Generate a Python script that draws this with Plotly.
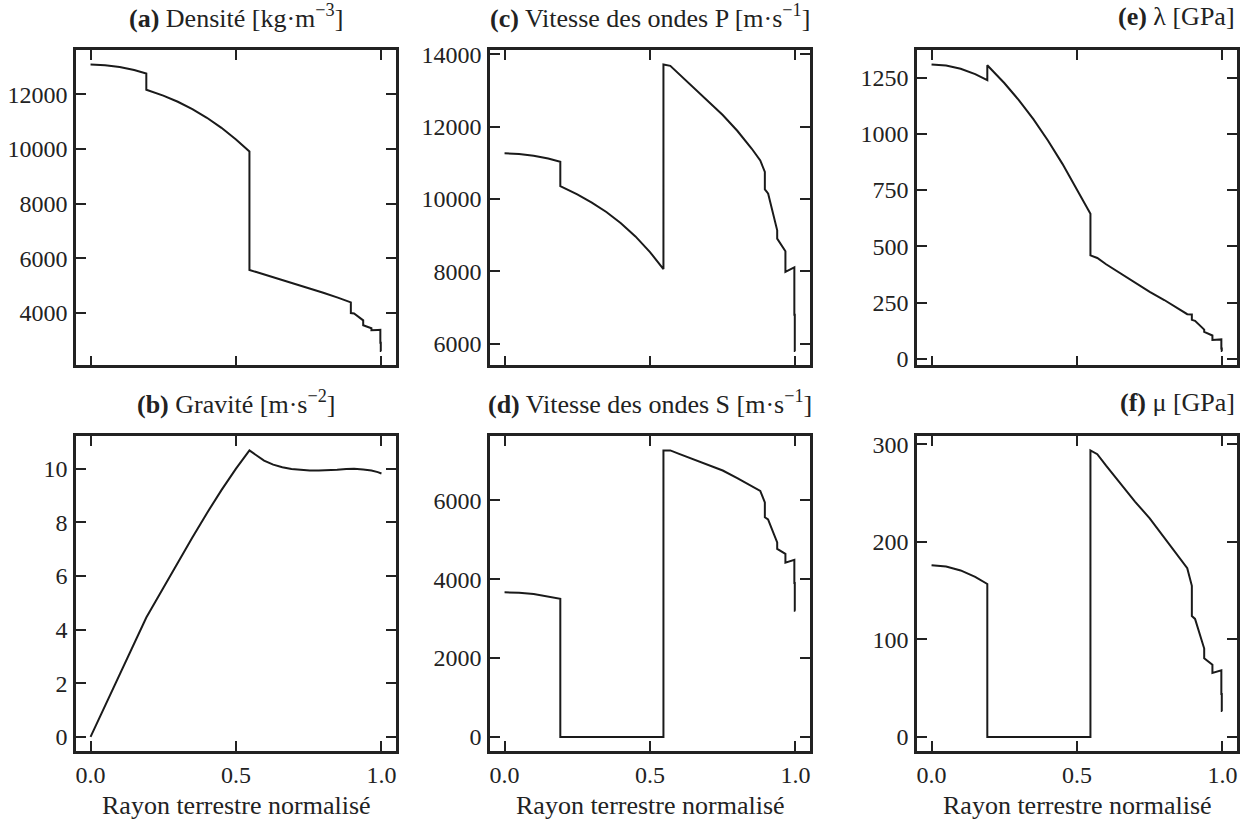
import plotly.graph_objects as go

# ---------------- data ----------------
radius = [0.0, 0.05, 0.10, 0.15, 0.1917,
          0.1917, 0.25, 0.30, 0.35, 0.40, 0.45, 0.50, 0.5462,
          0.5462, 0.5698, 0.60, 0.65, 0.70, 0.75, 0.80, 0.85, 0.879, 0.8948,
          0.8948, 0.9058, 0.9058, 0.9372, 0.9372, 0.9655, 0.9655, 0.9874, 0.9962,
          0.9962, 0.9977, 0.9977, 0.9995]

density = [13088.5, 13066.4, 13000.1, 12889.6, 12763.7,
           12166.4, 11951.5, 11725.3, 11455.9, 11139.4, 10771.4, 10347.9, 9903.7,
           5566.5, 5491.4, 5395.6, 5236.7, 5075.4, 4909.4, 4736.4, 4554.1, 4443.1, 4380.9,
           3992.2, 3975.9, 3976.0, 3723.9, 3543.3, 3435.7, 3359.5, 3374.7, 3380.8,
           2900.0, 2900.0, 2600.0, 2600.0]

vp = [11262.2, 11246.3, 11198.6, 11119.0, 11028.3,
      10355.8, 10127.7, 9903.6, 9642.4, 9333.9, 8968.0, 8534.5, 8065.0,
      13716.6, 13680.0, 13450.9, 13083.4, 12713.5, 12321.3, 11886.8, 11389.8, 11065.3, 10752.0,
      10266.5, 10158.0, 10158.6, 9134.4, 8905.4, 8558.6, 7989.8, 8076.1, 8110.7,
      6800.0, 6800.0, 5800.0, 5800.0]

vs = [3667.8, 3656.7, 3623.3, 3567.7, 3504.4,
      0, 0, 0, 0, 0, 0, 0, 0,
      7264.7, 7265.8, 7178.7, 7036.8, 6891.8, 6756.1, 6564.3, 6367.9, 6240.3, 5945.8,
      5570.4, 5516.1, 5516.4, 4932.8, 4770.0, 4643.8, 4419.0, 4470.4, 4491.1,
      3900.0, 3900.0, 3200.0, 3200.0]

lam = [1307.9, 1303.2, 1289.0, 1265.4, 1238.9,
       1304.8, 1225.9, 1150.0, 1065.1, 970.5, 866.3, 753.7, 644.2,
       459.8, 447.9, 420.1, 377.8, 338.2, 297.1, 261.1, 221.5, 198.0, 196.7,
       173.0, 168.3, 168.3, 129.5, 119.8, 103.5, 83.3, 85.2, 86.0,
       45.9, 45.9, 34.2, 34.2]

mu = [176.1, 174.7, 170.7, 164.1, 156.8,
      0, 0, 0, 0, 0, 0, 0, 0,
      293.8, 289.9, 278.1, 259.3, 241.1, 224.1, 204.1, 184.7, 173.0, 154.9,
      123.9, 121.0, 121.0, 90.6, 80.6, 74.1, 65.6, 67.4, 68.2,
      44.1, 44.1, 26.6, 26.6]

radius_g = [0.0, 0.1917, 0.25, 0.30, 0.35, 0.40, 0.45, 0.50, 0.5462,
            0.5698, 0.5965, 0.6279, 0.6592, 0.6906, 0.7220, 0.7534, 0.7848,
            0.8162, 0.8476, 0.8790, 0.8948, 0.9058, 0.9372, 0.9655, 0.9874, 1.0]
gravity = [0.0, 4.45, 5.55, 6.50, 7.43, 8.34, 9.20, 10.00, 10.68,
           10.50, 10.30, 10.15, 10.05, 9.99, 9.95, 9.93, 9.93,
           9.94, 9.96, 9.99, 10.00, 10.00, 9.97, 9.93, 9.87, 9.82]

x_ticks = [0.0, 0.5, 1.0]
x_tick_text = ["0.0", "0.5", "1.0"]

panels = [
    ("a", radius, density, "<b>(a)</b> Densité [kg·m<sup>−3</sup>]", [4000, 6000, 8000, 10000, 12000], "center"),
    ("b", radius_g, gravity, "<b>(b)</b> Gravité [m·s<sup>−2</sup>]", [0, 2, 4, 6, 8, 10], "center"),
    ("c", radius, vp, "<b>(c)</b> Vitesse des ondes P [m·s<sup>−1</sup>]", [6000, 8000, 10000, 12000, 14000], "center"),
    ("d", radius, vs, "<b>(d)</b> Vitesse des ondes S [m·s<sup>−1</sup>]", [0, 2000, 4000, 6000], "center"),
    ("e", radius, lam, "<b>(e)</b> λ [GPa]", [0, 250, 500, 750, 1000, 1250], "right"),
    ("f", radius, mu, "<b>(f)</b> μ [GPa]", [0, 100, 200, 300], "right"),
]

W, H = 1254, 825
cols_px = [(76, 396), (490, 810), (917, 1237)]
rows_px = [(43, 364), (436, 757)]
FONT = "Liberation Serif"
FS_TICK = 24
FS_TEXT = 26
INK = "#222"
LINE = "#1a1a1a"

fig = go.Figure()
layout = dict(
    width=W, height=H,
    margin=dict(l=0, r=0, t=0, b=0),
    paper_bgcolor="white", plot_bgcolor="white",
    showlegend=False,
    font=dict(family=FONT, size=FS_TICK, color=INK),
)
annotations = []

for i, (key, xs, ys, title, yt, align) in enumerate(panels):
    col = i // 2
    row = i % 2
    n = i + 1
    xa = "xaxis" if n == 1 else f"xaxis{n}"
    ya = "yaxis" if n == 1 else f"yaxis{n}"
    xref = "x" if n == 1 else f"x{n}"
    yref = "y" if n == 1 else f"y{n}"
    x0, x1 = cols_px[col]
    y0, y1 = rows_px[row]
    fig.add_trace(go.Scatter(x=xs, y=ys, mode="lines",
                             line=dict(color=LINE, width=2),
                             xaxis=xref, yaxis=yref, hoverinfo="skip"))
    ymin, ymax = min(ys), max(ys)
    pad = 0.05 * (ymax - ymin)
    layout[xa] = dict(
        domain=[x0 / W, x1 / W], anchor=yref,
        range=[-0.05, 1.05], tickvals=x_ticks, ticktext=x_tick_text,
        showticklabels=(row == 1),
        ticks="inside", ticklen=10, tickwidth=2, tickcolor=INK,
        showline=True, linewidth=2.5, linecolor=INK, mirror="allticks",
        showgrid=False, zeroline=False,
        tickfont=dict(family=FONT, size=FS_TICK, color=INK),
        ticklabelstandoff=0,
    )
    layout[ya] = dict(
        domain=[1 - y1 / H, 1 - y0 / H], anchor=xref,
        range=[ymin - pad, ymax + pad], tickvals=yt, tickformat="d",
        ticks="inside", ticklen=10, tickwidth=2, tickcolor=INK,
        showline=True, linewidth=2.5, linecolor=INK, mirror="allticks",
        showgrid=False, zeroline=False,
        tickfont=dict(family=FONT, size=FS_TICK, color=INK),
        ticklabelstandoff=1,
    )
    ty = y0 - 34
    if align == "center":
        tx, xanchor = (x0 + x1) / 2, "center"
    else:
        tx, xanchor = x1, "right"
    annotations.append(dict(
        text=title, x=tx / W, y=1 - ty / H, xref="paper", yref="paper",
        xanchor=xanchor, yanchor="middle", showarrow=False,
        font=dict(family=FONT, size=FS_TEXT, color=INK)))
    if row == 1:
        annotations.append(dict(
            text="Rayon terrestre normalisé", x=(x0 + x1) / 2 / W, y=1 - 812 / H,
            xref="paper", yref="paper", xanchor="center", yanchor="middle",
            showarrow=False, font=dict(family=FONT, size=FS_TEXT, color=INK)))

layout["annotations"] = annotations
fig.update_layout(**layout)
fig.write_html(
    "out.html",
    config={"displayModeBar": False},
    post_script="document.body.style.margin='0';document.body.style.overflow='hidden';",
)
